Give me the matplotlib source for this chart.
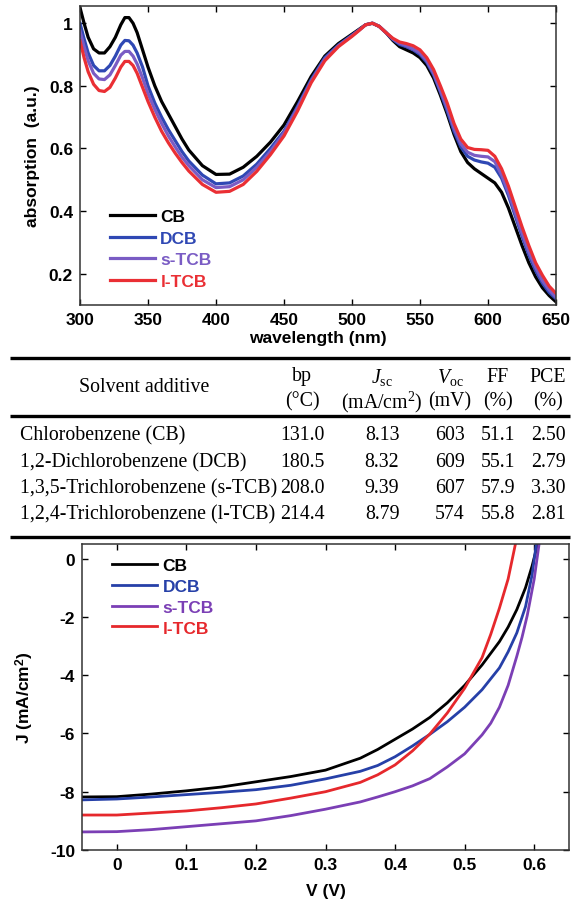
import numpy as np
import matplotlib
matplotlib.use("Agg")
import matplotlib.pyplot as plt

plt.rcParams['font.family'] = ['Liberation Sans', 'DejaVu Sans']
plt.rcParams['axes.unicode_minus'] = False
plt.rcParams['mathtext.fontset'] = 'custom'
plt.rcParams['mathtext.rm'] = 'Liberation Serif'
plt.rcParams['mathtext.it'] = 'Liberation Serif:italic'
plt.rcParams['mathtext.bf'] = 'Liberation Sans:bold'

# --- absorption spectra ---
wavelength = [300, 303, 306, 310, 314, 318, 322, 326, 330, 333, 336, 339, 342,
              346, 350, 355, 360, 365, 370, 375, 380, 390, 400, 410, 420, 430,
              440, 450, 460, 470, 480, 490, 500, 505, 510, 515, 520, 525, 530,
              535, 540, 545, 550, 555, 560, 565, 570, 575, 580, 585, 590, 595,
              600, 605, 610, 615, 620, 625, 630, 635, 640, 645, 650]
abs_cb = [1.05, 1.0, 0.955, 0.918, 0.905, 0.905, 0.925, 0.955, 0.995, 1.018,
          1.018, 1.0, 0.97, 0.915, 0.86, 0.8, 0.75, 0.71, 0.67, 0.63, 0.595,
          0.545, 0.517, 0.518, 0.54, 0.575, 0.62, 0.675, 0.75, 0.83, 0.895,
          0.935, 0.965, 0.98, 0.995, 1.0, 0.99, 0.97, 0.945, 0.925, 0.915,
          0.905, 0.89, 0.865, 0.825, 0.77, 0.71, 0.645, 0.59, 0.555, 0.535,
          0.52, 0.505, 0.49, 0.46, 0.41, 0.35, 0.29, 0.235, 0.19, 0.155,
          0.13, 0.11]
abs_dcb = [1.0, 0.95, 0.905, 0.865, 0.848, 0.848, 0.865, 0.895, 0.93, 0.945,
           0.944, 0.93, 0.905, 0.86, 0.8, 0.745, 0.7, 0.66, 0.625, 0.59, 0.56,
           0.515, 0.487, 0.49, 0.512, 0.55, 0.6, 0.655, 0.735, 0.82, 0.89,
           0.93, 0.962, 0.978, 0.995, 1.0, 0.99, 0.97, 0.948, 0.932, 0.925,
           0.915, 0.9, 0.875, 0.835, 0.78, 0.72, 0.655, 0.605, 0.575, 0.563,
           0.557, 0.553, 0.54, 0.505, 0.45, 0.385, 0.32, 0.26, 0.21, 0.17,
           0.14, 0.12]
abs_stcb = [0.975, 0.925, 0.88, 0.84, 0.822, 0.82, 0.835, 0.865, 0.898, 0.91,
            0.91, 0.895, 0.87, 0.825, 0.775, 0.725, 0.68, 0.64, 0.605, 0.572,
            0.545, 0.5, 0.475, 0.478, 0.5, 0.54, 0.59, 0.65, 0.73, 0.815,
            0.885, 0.928, 0.96, 0.977, 0.995, 1.0, 0.99, 0.97, 0.95, 0.936,
            0.928, 0.918, 0.905, 0.88, 0.84, 0.785, 0.73, 0.665, 0.615, 0.588,
            0.578, 0.575, 0.573, 0.558, 0.515, 0.46, 0.395, 0.33, 0.27, 0.22,
            0.178, 0.148, 0.125]
abs_ltcb = [0.944, 0.89, 0.845, 0.805, 0.785, 0.782, 0.795, 0.825, 0.86, 0.878,
            0.878, 0.865, 0.84, 0.795, 0.75, 0.7, 0.655, 0.618, 0.585, 0.555,
            0.528, 0.485, 0.46, 0.463, 0.485, 0.527, 0.58, 0.64, 0.72, 0.81,
            0.88, 0.925, 0.958, 0.976, 0.995, 1.0, 0.99, 0.97, 0.952, 0.94,
            0.935, 0.928, 0.915, 0.89, 0.852, 0.8, 0.745, 0.68, 0.63, 0.603,
            0.597, 0.596, 0.594, 0.575, 0.535, 0.48, 0.415, 0.35, 0.29, 0.235,
            0.195, 0.16, 0.137]

# --- J-V curves ---
v_cb = [-0.05, 0, 0.05, 0.1, 0.15, 0.2, 0.25, 0.3, 0.35, 0.375, 0.4, 0.425,
        0.45, 0.475, 0.5, 0.525, 0.55, 0.5625, 0.575, 0.5875, 0.597, 0.605]
j_cb = [-8.18, -8.17, -8.08, -7.97, -7.84, -7.66, -7.48, -7.26, -6.85, -6.55,
        -6.2, -5.85, -5.45, -4.95, -4.35, -3.65, -2.85, -2.35, -1.75, -1.0,
        -0.25, 0.5]
v_dcb = [-0.05, 0, 0.05, 0.1, 0.15, 0.2, 0.25, 0.3, 0.35, 0.375, 0.4, 0.425,
         0.45, 0.475, 0.5, 0.525, 0.55, 0.5625, 0.575, 0.5875, 0.597, 0.603]
j_dcb = [-8.28, -8.25, -8.18, -8.1, -8.02, -7.93, -7.78, -7.56, -7.3, -7.1,
         -6.8, -6.43, -6.03, -5.6, -5.1, -4.5, -3.75, -3.2, -2.55, -1.65,
         -0.55, 0.5]
v_stcb = [-0.05, 0, 0.05, 0.1, 0.15, 0.2, 0.25, 0.3, 0.35, 0.375, 0.4, 0.425,
          0.45, 0.475, 0.5, 0.525, 0.5375, 0.55, 0.5625, 0.575, 0.5825, 0.59,
          0.6, 0.607]
j_stcb = [-9.38, -9.37, -9.3, -9.2, -9.1, -9.0, -8.82, -8.6, -8.35, -8.18,
          -8.0, -7.8, -7.55, -7.15, -6.7, -6.05, -5.65, -5.1, -4.35, -3.35,
          -2.7, -1.95, -0.7, 0.5]
v_ltcb = [-0.05, 0, 0.05, 0.1, 0.15, 0.2, 0.25, 0.3, 0.35, 0.375, 0.4, 0.425,
          0.45, 0.475, 0.5, 0.525, 0.5375, 0.55, 0.5625, 0.573]
j_ltcb = [-8.8, -8.8, -8.73, -8.66, -8.55, -8.42, -8.22, -8.0, -7.68, -7.42,
          -7.08, -6.6, -6.02, -5.3, -4.45, -3.4, -2.6, -1.7, -0.7, 0.5]

labels = ['CB', 'DCB', 's-TCB', 'l-TCB']
colors_abs = ['#000000', '#2f48b4', '#7a5cc4', '#ea2f34']
colors_jv = ['#000000', '#2640a8', '#7b3fb5', '#e6282c']

# --- table ---
solvents = ['Chlorobenzene (CB)', '1,2-Dichlorobenzene (DCB)',
            '1,3,5-Trichlorobenzene (s-TCB)', '1,2,4-Trichlorobenzene (l-TCB)']
bp = ['131.0', '180.5', '208.0', '214.4']
jsc = ['8.13', '8.32', '9.39', '8.79']
voc = ['603', '609', '607', '574']
ff = ['51.1', '55.1', '57.9', '55.8']
pce = ['2.50', '2.79', '3.30', '2.81']

W, H = 571, 904
fig = plt.figure(figsize=(W / 100, H / 100), dpi=100)
FS = 12.5

def style(ax):
    ax.tick_params(direction='in', length=4, width=1, top=True, right=True,
                   labelsize=FS, pad=5)
    for lab in ax.get_xticklabels() + ax.get_yticklabels():
        lab.set_fontweight('bold')
    for s in ax.spines.values():
        s.set_linewidth(1.1)
        s.set_color('#333333')

# top: absorption
ax1 = fig.add_axes([80 / W, 1 - 306 / H, 476 / W, 299 / H])
for y, c, l in zip([abs_cb, abs_dcb, abs_stcb, abs_ltcb], colors_abs, labels):
    ax1.plot(wavelength, y, color=c, lw=2.3, label=l)
ax1.set_xlim(300, 650)
ax1.set_ylim(0.1, 1.055)
ax1.set_xticks([300, 350, 400, 450, 500, 550, 600, 650])
ax1.set_yticks([0.2, 0.4, 0.6, 0.8, 1.0])
ax1.set_yticklabels(['0.2', '0.4', '0.6', '0.8', '1'])
style(ax1)
ax1.set_xlabel('wavelength (nm)', fontsize=FS, fontweight='bold', labelpad=2)
ax1.set_ylabel('absorption  (a.u.)', fontsize=FS, fontweight='bold', labelpad=6)
ax1.legend(loc='upper left', bbox_to_anchor=(0.063, 0.322), frameon=False,
           borderpad=0, borderaxespad=0, handlelength=2.6, handletextpad=0.3,
           labelspacing=0.38, prop={'weight': 'bold', 'size': FS},
           labelcolor='linecolor')

# middle: table
axt = fig.add_axes([0, 1 - 545 / H, 1, (545 - 350) / H])
axt.set_xlim(0, W)
axt.set_ylim(545, 350)
axt.axis('off')
for yy in [359, 417, 538]:
    axt.plot([10, 570], [yy, yy], color='black', lw=2.4, solid_capstyle='butt')
tf = {'family': 'Liberation Serif', 'size': 14.3}
axt.text(144, 388, 'Solvent additive', ha='center', va='center', **tf)
heads = [(302, 'bp', '(°C)'), (382, r'$J_{\rm sc}$', r'(mA/cm$^2$)'),
         (450, r'$V_{\rm oc}$', '(mV)'), (498, 'FF', '(%)'), (548, 'PCE', '(%)')]
for x, h1, h2 in heads:
    axt.text(x, 377, h1, ha='center', va='center', **tf)
    axt.text(x, 402, h2, ha='center', va='center', **tf)
rows_y = [436, 463, 489, 515]
for i, yy in enumerate(rows_y):
    axt.text(20, yy, solvents[i], ha='left', va='center', **tf)
    axt.text(302, yy, bp[i], ha='center', va='center', **tf)
    axt.text(382, yy, jsc[i], ha='center', va='center', **tf)
    axt.text(450, yy, voc[i], ha='center', va='center', **tf)
    axt.text(498, yy, ff[i], ha='center', va='center', **tf)
    axt.text(548, yy, pce[i], ha='center', va='center', **tf)

# bottom: J-V
ax2 = fig.add_axes([82 / W, 1 - 851 / H, 487 / W, 306 / H])
for v, j, c, l in zip([v_cb, v_dcb, v_stcb, v_ltcb], [j_cb, j_dcb, j_stcb, j_ltcb],
                      colors_jv, labels):
    ax2.plot(v, j, color=c, lw=2.0, label=l)
ax2.set_xlim(-0.05, 0.65)
ax2.set_ylim(-10, 0.5)
ax2.set_xticks([0, 0.1, 0.2, 0.3, 0.4, 0.5, 0.6])
ax2.set_xticklabels(['0', '0.1', '0.2', '0.3', '0.4', '0.5', '0.6'])
ax2.set_yticks([0, -2, -4, -6, -8, -10])
ax2.set_yticklabels(['0', '-2', '-4', '-6', '-8', '-10'])
style(ax2)
ax2.set_xlabel('V (V)', fontsize=FS, fontweight='bold', labelpad=8)
ax2.set_ylabel(r'J (mA/cm$^{\mathbf{2}}$)', fontsize=FS, fontweight='bold', labelpad=10)
ax2.legend(loc='upper left', bbox_to_anchor=(0.062, 0.955), frameon=False,
           borderpad=0, borderaxespad=0, handlelength=2.6, handletextpad=0.3,
           labelspacing=0.33, prop={'weight': 'bold', 'size': FS},
           labelcolor='linecolor')

fig.savefig('out.png', dpi=100)
